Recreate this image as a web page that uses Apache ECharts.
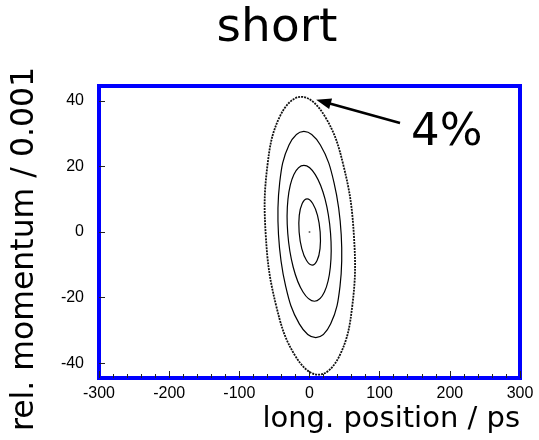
<!DOCTYPE html>
<html>
<head>
<meta charset="utf-8">
<script src="https://cdn.jsdelivr.net/npm/echarts@6/dist/echarts.min.js"></script>
<style>html,body{margin:0;padding:0;background:#fff}#c{width:539px;height:440px}</style>
</head>
<body>
<div id="c"></div>
<script>
// ---- data ----
const xTicks = [-300, -200, -100, 0, 100, 200, 300];
const yTicks = [-40, -20, 0, 20, 40];

// contour lines (long. position [ps], rel. momentum [1e-3])
const contour10 = [[-3.4,10.1],[4.6,8.7],[11.4,5.05],[15.2,0],[15.0,-5.05],[10.8,-8.7],[3.8,-10.1],[-4.2,-8.7],[-11.0,-5.05],[-14.8,0],[-14.6,5.05],[-10.4,8.7]];
const contour20 = [[-8.0,20.3],[8.25,17.5],[22.2,10.0],[30.0,-0.4],[29.7,-10.75],[21.25,-18.3],[7.0,-21.1],[-9.25,-18.3],[-23.2,-10.75],[-31.0,-0.4],[-30.7,10.0],[-22.25,17.5]];
const contour30 = [[-8.0,30.7],[15.5,26.5],[35.0,15.0],[45.2,-0.75],[43.5,-16.5],[30.2,-28.0],[9.0,-32.2],[-14.5,-28.0],[-34.0,-16.5],[-44.2,-0.75],[-42.5,15.0],[-29.2,26.5]];
const contour40 = [[-11.9,41.2],[21.2,35.5],[48.7,20.0],[63.3,-1.15],[61.1,-22.3],[42.6,-37.8],[12.9,-43.5],[-20.2,-37.8],[-47.7,-22.3],[-62.3,-1.15],[-60.1,20.0],[-41.6,35.5]];
const centerPoint = [[0, 0]];
const annotationText = '4%';
const arrowFrom = [129, 33.2];
const arrowTo = [19.8, 39.7];

const contours = [contour10, contour20, contour30, contour40];

const chart = echarts.init(document.getElementById('c'), null, {renderer: 'canvas'});
const tickFont = 'Liberation Sans';

chart.setOption({
  animation: false,
  backgroundColor: '#fff',
  grid: {left: 99, top: 86, width: 421, height: 292, show: true, borderColor: '#0000ff', borderWidth: 4, backgroundColor: 'transparent', containLabel: false},
  xAxis: {
    type: 'value', min: xTicks[0], max: xTicks[xTicks.length - 1], interval: 100,
    axisLine: {show: false, onZero: false},
    axisTick: {show: true, inside: true, length: 7, lineStyle: {color: '#222', width: 1}},
    minorTick: {show: true, splitNumber: 5, length: 4, lineStyle: {color: '#222', width: 1}},
    splitLine: {show: false},
    axisLabel: {color: '#000', fontFamily: tickFont, fontSize: 16, margin: 8}
  },
  yAxis: {
    type: 'value', min: -44.5, max: 44.5,
    axisLine: {show: false, onZero: false},
    axisTick: {show: true, inside: true, length: 6, customValues: yTicks, lineStyle: {color: '#222', width: 1}},
    splitLine: {show: false},
    axisLabel: {color: '#000', fontFamily: tickFont, fontSize: 16, margin: 15, customValues: yTicks}
  },
  graphic: [
    {type: 'text', x: 277, y: 29, style: {text: 'short', font: '47px "DejaVu Sans"', fill: '#000', align: 'center', verticalAlign: 'middle'}},
    {type: 'text', x: 25, y: 249, rotation: Math.PI / 2, style: {text: 'rel. momentum / 0.001', font: '31.5px "DejaVu Sans"', fill: '#000', align: 'center', verticalAlign: 'middle'}},
    {type: 'text', x: 520, y: 419, style: {text: 'long. position / ps', font: '29px "DejaVu Sans"', fill: '#000', align: 'right', verticalAlign: 'middle'}},
    {type: 'text', x: 411, y: 133, style: {text: annotationText, font: '45px "DejaVu Sans"', fill: '#000', align: 'left', verticalAlign: 'middle'}}
  ],
  series: [
    {
      type: 'custom',
      coordinateSystem: 'cartesian2d',
      clip: true,
      data: contours.map((c, i) => [c[0][0], c[0][1], i]),
      renderItem: function (params, api) {
        const idx = params.dataIndex;
        const pts = contours[idx].map(p => api.coord(p));
        const outer = idx === contours.length - 1;
        return {
          type: 'polygon',
          shape: {points: pts, smooth: 0.4},
          style: {fill: 'none', stroke: outer ? '#111' : '#000', lineWidth: outer ? 1.8 : 1.2, lineDash: outer ? [2, 1] : null}
        };
      },
      markLine: {
        silent: true,
        symbol: ['none', 'triangle'],
        symbolSize: [11, 15],
        label: {show: false},
        lineStyle: {color: '#000', width: 2.6, type: 'solid'},
        data: [[{coord: arrowFrom}, {coord: arrowTo}]]
      }
    },
    {
      type: 'scatter',
      data: centerPoint,
      symbolSize: 2,
      itemStyle: {color: '#444'}
    }
  ]
});
</script>
</body>
</html>
